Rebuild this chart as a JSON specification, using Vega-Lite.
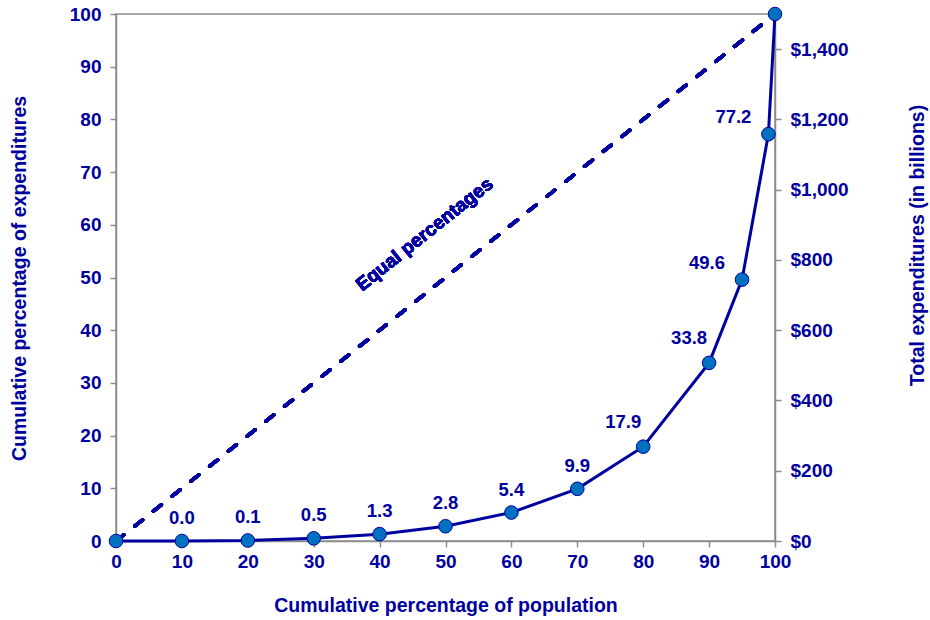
{
  "$schema": "https://vega.github.io/schema/vega-lite/v6.json",
  "width": 659,
  "height": 527,
  "autosize": {"type": "none"},
  "padding": {"left": 116, "top": 14, "right": 155, "bottom": 79},
  "background": "white",
  "config": {
    "view": {"stroke": "#8c8c8c", "strokeWidth": 1.5},
    "font": "Liberation Sans",
    "axis": {
      "domainColor": "#8c8c8c", "domainWidth": 1.5,
      "tickColor": "#8c8c8c", "tickWidth": 1.5, "tickSize": 6,
      "grid": false,
      "labelFont": "Liberation Sans", "labelFontSize": 19, "labelFontWeight": "bold", "labelColor": "#0000A0",
      "titleFont": "Liberation Sans", "titleFontSize": 19.5, "titleFontWeight": "bold", "titleColor": "#0000A0"
    }
  },
  "data": {
    "values": [
      {"pop": 0, "pct": 0, "label": ""},
      {"pop": 10, "pct": 0.0, "label": "0.0"},
      {"pop": 20, "pct": 0.1, "label": "0.1"},
      {"pop": 30, "pct": 0.5, "label": "0.5"},
      {"pop": 40, "pct": 1.3, "label": "1.3"},
      {"pop": 50, "pct": 2.8, "label": "2.8"},
      {"pop": 60, "pct": 5.4, "label": "5.4"},
      {"pop": 70, "pct": 9.9, "label": "9.9"},
      {"pop": 80, "pct": 17.9, "label": "17.9"},
      {"pop": 90, "pct": 33.8, "label": "33.8"},
      {"pop": 95, "pct": 49.6, "label": "49.6"},
      {"pop": 99, "pct": 77.2, "label": "77.2"},
      {"pop": 100, "pct": 100, "label": ""}
    ]
  },
  "layer": [
    {
      "layer": [
        {
          "mark": {"type": "line", "color": "#0000A0", "strokeWidth": 3},
          "encoding": {
            "x": {"field": "pop", "type": "quantitative",
              "scale": {"domain": [0, 100], "nice": false},
              "axis": {"values": [0,10,20,30,40,50,60,70,80,90,100], "title": "Cumulative percentage of population", "labelPadding": 5, "titleY": 64, "titleBaseline": "middle", "labelFlush": false}},
            "y": {"field": "pct", "type": "quantitative",
              "scale": {"domain": [0, 100], "nice": false},
              "axis": {"values": [0,10,20,30,40,50,60,70,80,90,100], "title": "Cumulative percentage of expenditures", "labelPadding": 9, "titleX": -97, "titleY": 264, "titleBaseline": "middle", "labelFlush": false}}
          }
        },
        {
          "mark": {"type": "rule", "color": "#0000A0", "strokeWidth": 3.5, "strokeDash": [10, 14], "strokeCap": "round"},
          "encoding": {
            "x": {"datum": 0, "type": "quantitative"},
            "y": {"datum": 0, "type": "quantitative"},
            "x2": {"datum": 100},
            "y2": {"datum": 100}
          }
        },
        {
          "mark": {"type": "text", "text": "Equal percentages", "angle": -38.6, "fontSize": 19, "fontWeight": "bold", "color": "#0000A0", "font": "Liberation Sans"},
          "encoding": {
            "x": {"datum": 46.8, "type": "quantitative"},
            "y": {"datum": 58.2, "type": "quantitative"}
          }
        },
        {
          "mark": {"type": "point", "filled": true, "fill": "#0070C0", "stroke": "#0000A0", "strokeWidth": 1, "size": 185, "opacity": 1},
          "encoding": {
            "x": {"field": "pop", "type": "quantitative"},
            "y": {"field": "pct", "type": "quantitative"}
          }
        },
        {
          "transform": [{"filter": "datum.pop <= 70"}],
          "mark": {"type": "text", "fontSize": 18.5, "fontWeight": "bold", "color": "#0000A0", "dy": -23, "font": "Liberation Sans"},
          "encoding": {
            "x": {"field": "pop", "type": "quantitative"},
            "y": {"field": "pct", "type": "quantitative"},
            "text": {"field": "label"}
          }
        },
        {
          "transform": [{"filter": "datum.pop == 80 || datum.pop == 90"}],
          "mark": {"type": "text", "fontSize": 18.5, "fontWeight": "bold", "color": "#0000A0", "dx": -20, "dy": -25, "font": "Liberation Sans"},
          "encoding": {
            "x": {"field": "pop", "type": "quantitative"},
            "y": {"field": "pct", "type": "quantitative"},
            "text": {"field": "label"}
          }
        },
        {
          "transform": [{"filter": "datum.pop == 95 || datum.pop == 99"}],
          "mark": {"type": "text", "fontSize": 18.5, "fontWeight": "bold", "color": "#0000A0", "align": "right", "dx": -17, "dy": -17, "font": "Liberation Sans"},
          "encoding": {
            "x": {"field": "pop", "type": "quantitative"},
            "y": {"field": "pct", "type": "quantitative"},
            "text": {"field": "label"}
          }
        }
      ]
    },
    {
      "mark": {"type": "point", "opacity": 0},
      "encoding": {
        "x": {"datum": 0, "type": "quantitative"},
        "y": {"datum": 0, "type": "quantitative",
          "scale": {"domain": [0, 1500], "nice": false},
          "axis": {"orient": "right", "values": [0,200,400,600,800,1000,1200,1400], "format": "$,.0f", "title": "Total expenditures (in billions)", "labelPadding": 9, "titleAngle": 270, "titleX": 142, "titleY": 231, "titleBaseline": "middle", "labelFlush": false}}
      }
    }
  ],
  "resolve": {"scale": {"y": "independent"}}
}
